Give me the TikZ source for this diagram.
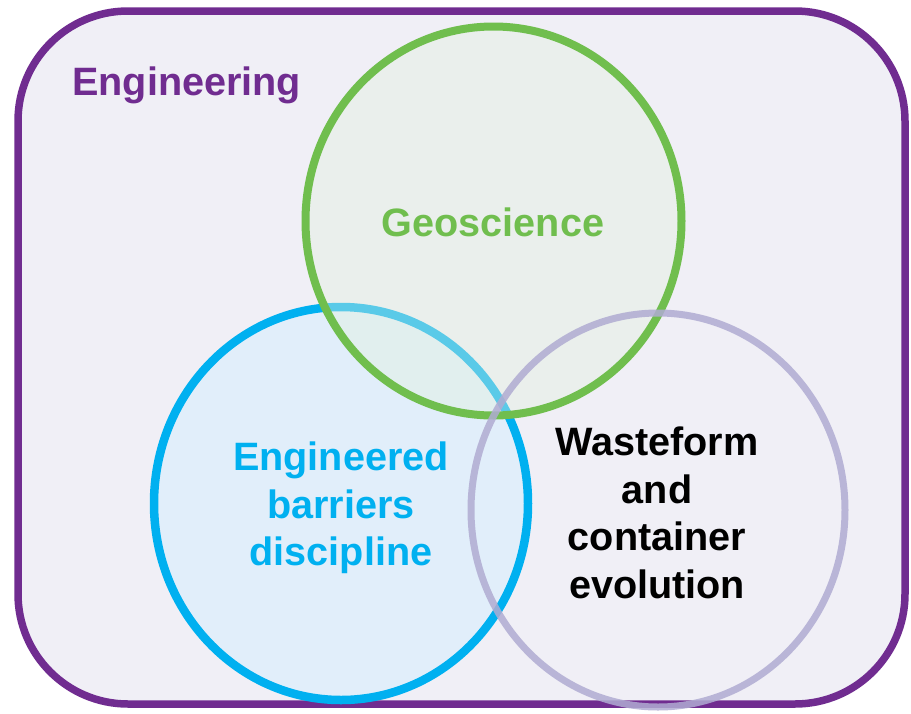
\documentclass[tikz,border=0pt]{standalone}
\usepackage{fontspec}
\setmainfont{Liberation Sans}
\definecolor{purp}{RGB}{112,44,144}
\definecolor{bgl}{RGB}{240,239,246}
\definecolor{grn}{RGB}{112,190,78}
\definecolor{grnfill}{RGB}{225,241,221}
\definecolor{cyn}{RGB}{0,176,240}
\definecolor{cynfill}{RGB}{225,238,250}
\definecolor{lav}{RGB}{176,172,210}
\tikzset{
  lbl/.style={font=\bfseries\fontsize{39.6}{47.5}\selectfont, align=center, inner sep=0pt},
}
\begin{document}
\begin{tikzpicture}[x=1pt,y=-1pt]
\useasboundingbox (0,0) rectangle (911,713);
\draw[purp, line width=7.5, fill=bgl, rounded corners=110] (18,11) rectangle (905,704);
\node[lbl, text=purp, anchor=base west] (eng) at (72,95) {Engineering};
% blue circle
\draw[cyn, line width=8.5, fill=cynfill] (341,503.5) ellipse [x radius=187, y radius=196.5];
% green circle
\draw[grn, line width=8, fill=grnfill, fill opacity=0.4] (493.5,221) ellipse [x radius=188, y radius=194.5];
% lavender circle
\draw[lav, line width=7, draw opacity=0.85] (658,510) ellipse [x radius=187, y radius=197];
\node[lbl, text=grn] (geo) at (493,222) {Geoscience};
\node[lbl, text=cyn] (ebd) at (341,508) {Engineered\\barriers\\discipline};
\node[lbl, text=black] (wce) at (657,513) {Wasteform\\and\\container\\evolution};
\end{tikzpicture}
\end{document}
